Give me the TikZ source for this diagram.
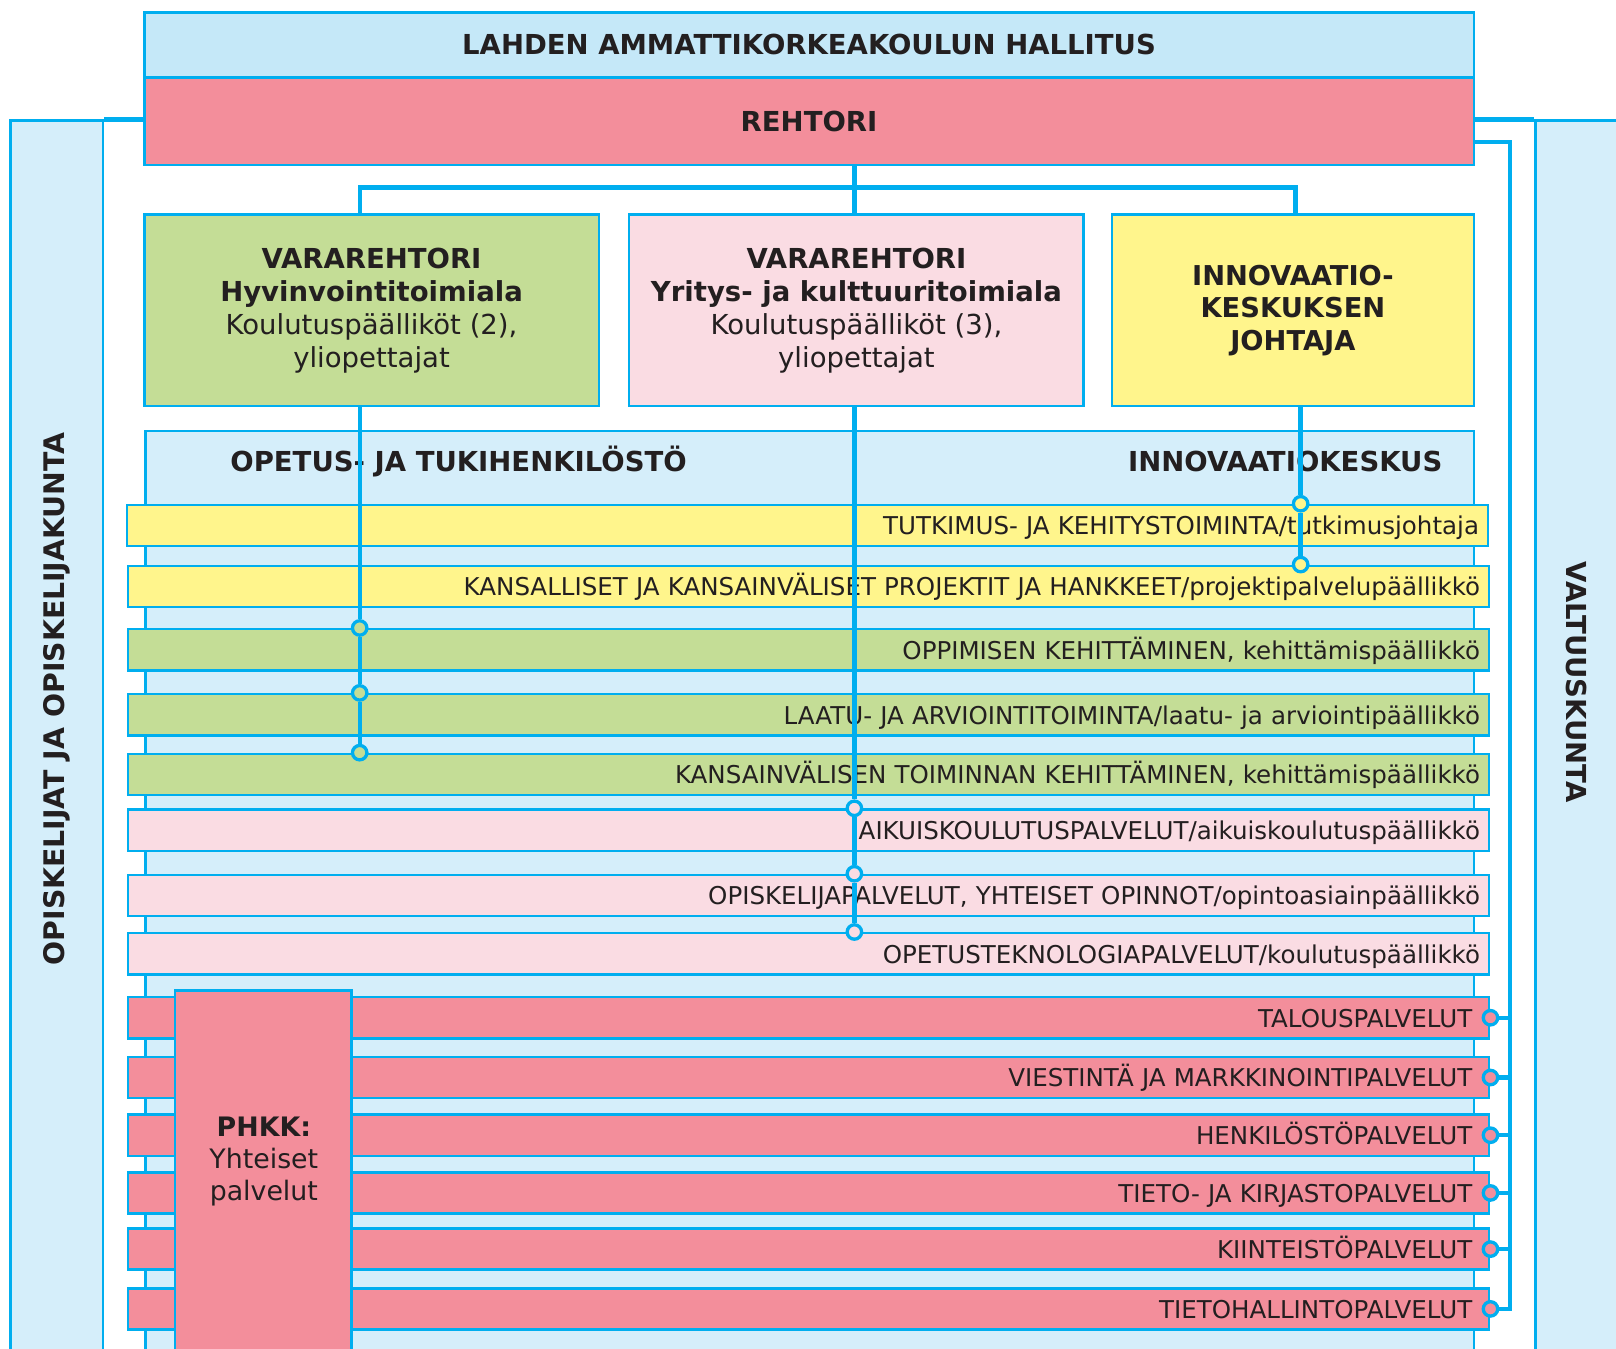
\documentclass[tikz,border=0pt]{standalone}
\usepackage{fontspec}
\setmainfont{DejaVu Sans}

\definecolor{linecyan}{HTML}{00AEEF}
\definecolor{hallblue}{HTML}{C5E8F8}
\definecolor{paleblue}{HTML}{D5EEFA}
\definecolor{rosered}{HTML}{F38E9B}
\definecolor{leafgreen}{HTML}{C4DD96}
\definecolor{palepink}{HTML}{FADCE3}
\definecolor{lemon}{HTML}{FFF58C}
\definecolor{inkdark}{HTML}{231F20}

\begin{document}
\begin{tikzpicture}[x=1pt, y=-1pt,
    box/.style = {draw=linecyan, line width=2.4pt, inner sep=0pt, text=inkdark},
    link/.style = {draw=linecyan, line width=4.2pt},
    dot/.style = {circle, draw=linecyan, line width=3.2pt, inner sep=0pt, minimum size=14pt},
    head/.style = {font=\fontsize{26.7}{32}\selectfont\bfseries, text=inkdark},
    unit/.style = {box, minimum width=441pt, minimum height=186pt, align=center,
                   font=\fontsize{26.7}{32}\selectfont},
    row/.style = {box, minimum width=1321pt, minimum height=40pt, text width=1303pt,
                  align=right, text height=20pt, text depth=2pt,
                  font=\fontsize{23.8}{28}\selectfont},
    redrow/.style = {row, fill=rosered, text width=1288pt}]
\useasboundingbox (0,0) rectangle (1568,1308);

% side columns
\node[box, fill=paleblue, minimum width=90pt, minimum height=1203pt] (opisk) at (55,718.5) {};
\node[head, rotate=90, font=\fontsize{27.5}{32}\selectfont\bfseries] (opiskt) at (55,678) {OPISKELIJAT JA OPISKELIJAKUNTA};
\node[box, fill=paleblue, minimum width=95pt, minimum height=1203pt] (valt) at (1537.5,718.5) {};
\node[head, rotate=-90] (valtt) at (1530,662) {VALTUUSKUNTA};

% top
\node[box, head, fill=hallblue, minimum width=1290pt, minimum height=63pt] (hall) at (785,43.5) {LAHDEN AMMATTIKORKEAKOULUN HALLITUS};
\node[box, head, fill=rosered, minimum width=1290pt, minimum height=85pt] (reh) at (785,117.5) {REHTORI};

% vararehtorit
\node[unit, fill=leafgreen] (vr1) at (360.5,301) {\textbf{VARAREHTORI}\\\textbf{Hyvinvointitoimiala}\\Koulutuspäälliköt (2),\\yliopettajat};
\node[unit, fill=palepink] (vr2) at (831,301) {\textbf{VARAREHTORI}\\\textbf{Yritys- ja kulttuuritoimiala}\\Koulutuspäälliköt (3),\\yliopettajat};
\node[unit, fill=lemon, minimum width=351pt, font=\fontsize{26.5}{31.5}\selectfont\bfseries] (ikj) at (1254.5,301) {INNOVAATIO-\\KESKUKSEN\\JOHTAJA};

% henkilosto
\node[box, fill=paleblue, minimum width=1289pt, minimum height=902pt] (staff) at (785.5,869) {};
\node[head, anchor=west] (staffl) at (220,448) {OPETUS- JA TUKIHENKILÖSTÖ};
\node[head, anchor=east] (staffr) at (1403,448) {INNOVAATIOKESKUS};

\node[row, fill=lemon] (r1) at (783.5,510) {TUTKIMUS- JA KEHITYSTOIMINTA/tutkimusjohtaja};
\node[row, fill=lemon] (r2) at (784.5,569) {KANSALLISET JA KANSAINVÄLISET PROJEKTIT JA HANKKEET/projektipalvelupäällikkö};
\node[row, fill=leafgreen] (r3) at (784.5,630.5) {OPPIMISEN KEHITTÄMINEN, kehittämispäällikkö};
\node[row, fill=leafgreen] (r4) at (784.5,693.5) {LAATU- JA ARVIOINTITOIMINTA/laatu- ja arviointipäällikkö};
\node[row, fill=leafgreen] (r5) at (784.5,751.5) {KANSAINVÄLISEN TOIMINNAN KEHITTÄMINEN, kehittämispäällikkö};
\node[row, fill=palepink] (r6) at (784.5,805.5) {AIKUISKOULUTUSPALVELUT/aikuiskoulutuspäällikkö};
\node[row, fill=palepink] (r7) at (784.5,869) {OPISKELIJAPALVELUT, YHTEISET OPINNOT/opintoasiainpäällikkö};
\node[row, fill=palepink] (r8) at (784.5,925.5) {OPETUSTEKNOLOGIAPALVELUT/koulutuspäällikkö};
\node[redrow] (r9) at (784.5,987.5) {TALOUSPALVELUT};
\node[redrow] (r10) at (784.5,1045.5) {VIESTINTÄ JA MARKKINOINTIPALVELUT};
\node[redrow] (r11) at (784.5,1101.5) {HENKILÖSTÖPALVELUT};
\node[redrow] (r12) at (784.5,1157.5) {TIETO- JA KIRJASTOPALVELUT};
\node[redrow] (r13) at (784.5,1212) {KIINTEISTÖPALVELUT};
\node[redrow] (r14) at (784.5,1270) {TIETOHALLINTOPALVELUT};

% phkk
\node[box, fill=rosered, minimum width=171pt, minimum height=359pt] (phkk) at (255.5,1140.5) {};
\node[align=center, text=inkdark, font=\fontsize{26}{31.5}\selectfont] (phkkt) at (256,1127) {\textbf{PHKK:}\\Yhteiset\\palvelut};

% circles
\coordinate (fork) at (829,182);
\coordinate (gx) at (349,0);
\coordinate (yx) at (1262,0);
\coordinate (bus) at (1465,0);
\node[dot, fill=lemon] (y1) at (r1.north -| yx) {};
\node[dot, fill=lemon] (y2) at (r2.north -| yx) {};
\node[dot, fill=leafgreen] (g3) at (r3.north -| gx) {};
\node[dot, fill=leafgreen] (g4) at (r4.north -| gx) {};
\node[dot, fill=leafgreen] (g5) at (r5.north -| gx) {};
\node[dot, fill=palepink] (p6) at (r6.north -| fork) {};
\node[dot, fill=palepink] (p7) at (r7.north -| fork) {};
\node[dot, fill=palepink] (p8) at (r8.north -| fork) {};
\node[dot, fill=rosered] (t9) at (r9.east) {};
\node[dot, fill=rosered] (t10) at (r10.east) {};
\node[dot, fill=rosered] (t11) at (r11.east) {};
\node[dot, fill=rosered] (t12) at (r12.east) {};
\node[dot, fill=rosered] (t13) at (r13.east) {};
\node[dot, fill=rosered] (t14) at (r14.east) {};

% rehtori
\draw[link] (reh.south -| fork) -- (fork);
\draw[link] (vr1.north -| gx) |- (fork) -| ([xshift=2.5pt]ikj.north);
\draw[link] (fork) -- (vr2.north -| fork);
\draw[link] (opisk.north east) -- (opisk.north east -| reh.west);
\draw[link] (valt.north west) -- (valt.north west -| reh.east);

% vararehtori 1
\draw[link] (vr1.south -| gx) -- (g3);
\draw[link] (g3) -- (g4);
\draw[link] (g4) -- (g5);

% vararehtori 2
\draw[link] (vr2.south -| fork) -- (p6);
\draw[link] (p6) -- (p7);
\draw[link] (p7) -- (p8);

% innovaatiokeskus
\draw[link] (ikj.south -| yx) -- (y1);
\draw[link] (y1) -- (y2);

% yhteiset palvelut
\draw[link] ([yshift=-20pt]reh.east) -| (t14 -| bus) -- (t14);
\draw[link] (t9) -- (t9 -| bus);
\draw[link] (t10) -- (t10 -| bus);
\draw[link] (t11) -- (t11 -| bus);
\draw[link] (t12) -- (t12 -| bus);
\draw[link] (t13) -- (t13 -| bus);

\end{tikzpicture}
\end{document}
